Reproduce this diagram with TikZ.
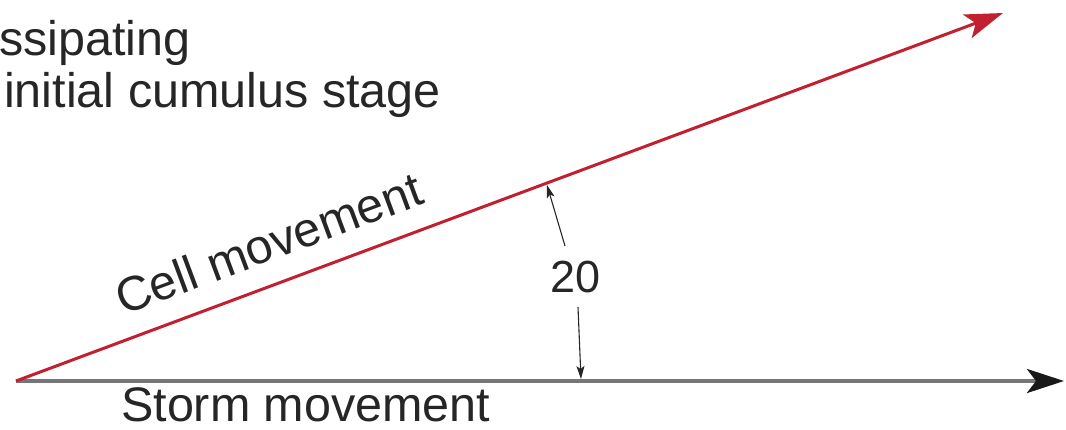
\documentclass[tikz,border=0pt]{standalone}
\usepackage{fontspec}
\setmainfont{Liberation Sans}
\usetikzlibrary{arrows.meta}
\definecolor{cellred}{RGB}{192,32,48}
\definecolor{stormgray}{RGB}{118,118,118}
\begin{document}
\begin{tikzpicture}[x=1pt,y=-1pt,
  lbl/.style={inner sep=0pt,font=\fontsize{48.5}{54}\selectfont,text=black!85},
  bigtip/.style={-{Stealth[length=38pt,width=25pt,inset=9pt]}},
  smalltip/.style={-{Stealth[length=13pt,width=8pt,inset=3pt]},line width=1.1pt,black!85}]
\useasboundingbox (0,0) rectangle (1066,429);
\coordinate (O) at (16,381);
\coordinate (stormtip) at (1064,381);
\coordinate (celltip) at (1003,13);
\draw[-{Stealth[length=37pt,width=24pt,inset=9pt,color=black!90]},stormgray,line width=4pt] (O) -- (stormtip);
\draw[bigtip,cellred,line width=3pt] (O) -- (celltip);
\node[lbl,anchor=base west] (diss) at (-1,55) {ssipating};
\node[lbl,anchor=base west] (init) at (4,107) {initial cumulus stage};
\node[lbl,anchor=base west] (storm) at (121,421) {Storm movement};
\node[lbl,anchor=base west,rotate=20.45] (cell) at (123,316) {Cell movement};
\node[inner sep=0pt,font=\fontsize{45}{50}\selectfont,text=black!85] (ang) at (576,277) {20};
\coordinate (upA) at (565,246);
\coordinate (upB) at (547,185);
\coordinate (dnA) at (578,307);
\coordinate (dnB) at (581,379);
\draw[smalltip] (upA) -- (upB);
\draw[smalltip] (dnA) -- (dnB);
\end{tikzpicture}
\end{document}
